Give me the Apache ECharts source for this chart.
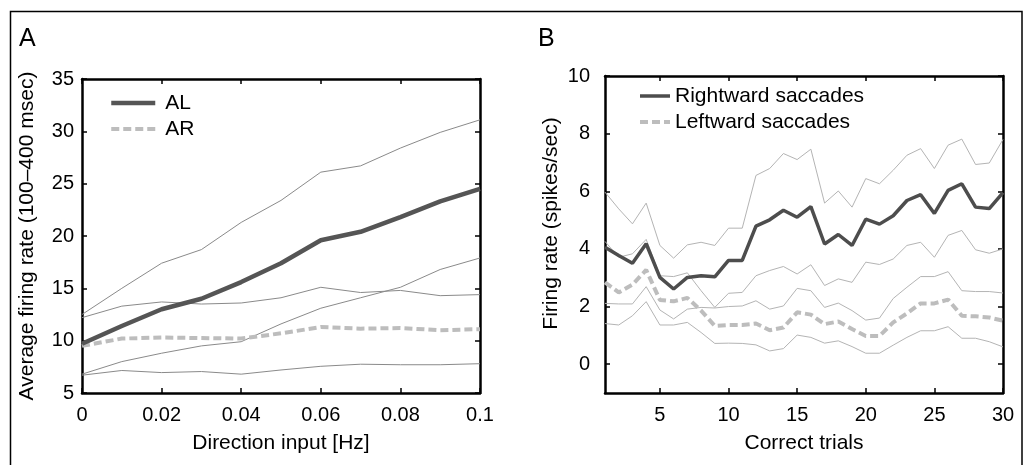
<!DOCTYPE html>
<html><head><meta charset="utf-8">
<script src="https://cdn.jsdelivr.net/npm/echarts@6/dist/echarts.min.js"></script>
<style>html,body{margin:0;padding:0;background:#fff}#c{width:1024px;height:465px}</style>
</head><body><div id="c"></div><script>
// ---- Panel A data ----
const directionInput = [0, 0.01, 0.02, 0.03, 0.04, 0.05, 0.06, 0.07, 0.08, 0.09, 0.1];
const alMean  = [9.7, 11.4, 13.0, 14.0, 15.6, 17.4, 19.6, 20.4, 21.8, 23.3, 24.5];
const alUpper = [12.5, 15.0, 17.4, 18.7, 21.3, 23.4, 26.1, 26.7, 28.4, 29.9, 31.1];
const alLower = [6.8, 8.0, 8.8, 9.5, 9.9, 11.6, 13.1, 14.1, 15.1, 16.8, 17.9];
const arMean  = [9.5, 10.2, 10.3, 10.25, 10.2, 10.7, 11.3, 11.15, 11.2, 11.0, 11.1];
const arUpper = [12.2, 13.3, 13.7, 13.5, 13.6, 14.1, 15.1, 14.6, 14.8, 14.3, 14.4];
const arLower = [6.7, 7.15, 6.95, 7.05, 6.8, 7.2, 7.55, 7.75, 7.7, 7.7, 7.8];

// ---- Panel B data ----
const trials = [1,2,3,4,5,6,7,8,9,10,11,12,13,14,15,16,17,18,19,20,21,22,23,24,25,26,27,28,29,30];
const rightMean  = [4.06,3.77,3.5,4.18,3.01,2.61,3.01,3.07,3.03,3.6,3.6,4.79,5.01,5.34,5.1,5.47,4.17,4.5,4.12,5.03,4.86,5.15,5.68,5.88,5.23,6.03,6.26,5.45,5.4,5.95];
const rightUpper = [5.97,5.39,4.87,5.59,4.12,3.68,4.14,4.23,4.12,4.72,4.72,6.55,6.79,7.31,7.1,7.46,5.59,6.01,5.45,6.44,6.26,6.73,7.25,7.48,6.79,7.6,7.81,6.93,6.98,7.8];
const rightLower = [2.11,2.09,2.09,2.69,1.88,1.57,1.91,1.97,1.95,2.0,2.02,2.2,1.91,2.02,2.63,2.55,1.97,2.12,1.86,1.53,1.6,2.28,2.67,3.04,3.04,3.21,2.55,2.52,2.52,2.47];
const leftMean   = [2.84,2.49,2.76,3.27,2.23,2.18,2.3,1.86,1.33,1.36,1.36,1.41,1.18,1.27,1.8,1.72,1.39,1.48,1.22,0.98,0.98,1.45,1.76,2.11,2.11,2.24,1.68,1.66,1.62,1.51];
const leftUpper  = [4.26,3.71,3.83,4.33,3.07,3.04,3.17,2.55,1.97,2.46,2.49,3.07,3.25,3.39,3.13,3.45,2.73,2.96,2.84,3.54,3.46,3.65,4.12,4.23,3.71,4.47,4.64,3.97,3.85,4.0];
const leftLower  = [1.41,1.36,1.68,2.17,1.36,1.36,1.45,1.1,0.72,0.73,0.72,0.67,0.46,0.54,1.01,0.93,0.73,0.81,0.61,0.38,0.38,0.66,0.93,1.16,1.16,1.3,0.9,0.9,0.78,0.6];
const bXTicks = [5, 10, 15, 20, 25, 30];
const bYTicks = [0, 2, 4, 6, 8, 10];

const FONT = "'Liberation Sans', Arial, Helvetica, sans-serif";
const pairs = (xs, ys) => xs.map((x, i) => [x, ys[i]]);

const axisLine = {show: true, onZero: false, lineStyle: {color: '#000', width: 2.5}};
const tick = {show: true, inside: true, length: 5, lineStyle: {color: '#000', width: 1.5}};
const lbl = (m) => ({color: '#000', fontSize: 20, fontFamily: FONT, margin: m});
const nameStyle = {color: '#000', fontSize: 21, fontFamily: FONT};

function xa(grid, pos, min, max, extra) {
  return Object.assign({gridIndex: grid, type: 'value', position: pos, min: min, max: max,
    axisLine: axisLine, splitLine: {show: false}}, extra);
}

const thinA = {color: '#8a8a8a', width: 1};
const thinB = {color: '#b4b4b4', width: 1};

function line(name, xi, yi, data, ls, z) {
  return {name: name, type: 'line', xAxisIndex: xi, yAxisIndex: yi, data: data,
    symbol: 'none', showSymbol: false, lineStyle: ls, itemStyle: {color: ls.color},
    silent: true, z: z || 2, animation: false};
}

const hiddenSymbol = {color: 'rgba(0,0,0,0)', borderColor: 'rgba(0,0,0,0)', borderWidth: 0, opacity: 0};

const option = {
  animation: false,
  backgroundColor: '#fff',
  title: [
    {text: 'A', left: 19, top: 27, padding: 0, textStyle: {fontSize: 25, fontWeight: 'normal', color: '#000', fontFamily: FONT}},
    {text: 'B', left: 538, top: 27, padding: 0, textStyle: {fontSize: 25, fontWeight: 'normal', color: '#000', fontFamily: FONT}}
  ],
  grid: [
    {left: 82, top: 79, width: 398, height: 314},
    {left: 605, top: 76, width: 398, height: 317}
  ],
  legend: [
    {data: ['AL', 'AR'], orient: 'vertical', left: 109, top: 90, itemWidth: 44, itemHeight: 12, itemGap: 0,
     padding: 0, selectedMode: false, itemStyle: hiddenSymbol, lineStyle: {width: 'inherit', type: 'inherit'},
     textStyle: {color: '#000', fontSize: 21, fontFamily: FONT, lineHeight: 26, padding: [0, 0, 0, 5]}},
    {data: ['Rightward saccades', 'Leftward saccades'], orient: 'vertical', left: 638, top: 83, itemWidth: 30, itemHeight: 12, itemGap: 0,
     padding: 0, selectedMode: false, itemStyle: hiddenSymbol, lineStyle: {width: 'inherit', type: 'inherit'},
     textStyle: {color: '#000', fontSize: 21, fontFamily: FONT, lineHeight: 26}}
  ],
  xAxis: [
    xa(0, 'bottom', 0, 0.1, {interval: 0.02, axisTick: tick, axisLabel: lbl(12),
      name: 'Direction input [Hz]', nameLocation: 'middle', nameGap: 40, nameTextStyle: nameStyle}),
    xa(0, 'top', 0, 0.1, {interval: 0.02, axisTick: tick, axisLabel: {show: false}}),
    xa(1, 'bottom', 1, 30, {axisTick: Object.assign({customValues: bXTicks}, tick),
      axisLabel: Object.assign({customValues: bXTicks}, lbl(12)),
      name: 'Correct trials', nameLocation: 'middle', nameGap: 40, nameTextStyle: nameStyle}),
    xa(1, 'top', 1, 30, {axisTick: Object.assign({customValues: bXTicks}, tick), axisLabel: {show: false}})
  ],
  yAxis: [
    xa(0, 'left', 5, 35, {interval: 5, axisTick: tick, axisLabel: lbl(8),
      name: 'Average firing rate (100\u2013400 msec)', nameLocation: 'middle', nameGap: 44, nameTextStyle: nameStyle}),
    xa(0, 'right', 5, 35, {interval: 5, axisTick: tick, axisLabel: {show: false}}),
    xa(1, 'left', -1, 10, {axisTick: Object.assign({customValues: bYTicks}, tick),
      axisLabel: Object.assign({customValues: bYTicks}, lbl(15)),
      name: 'Firing rate (spikes/sec)', nameLocation: 'middle', nameGap: 43,
      nameTextStyle: Object.assign({padding: [0, 0, 0, 22]}, nameStyle)}),
    xa(1, 'right', -1, 10, {axisTick: Object.assign({customValues: bYTicks}, tick), axisLabel: {show: false}})
  ],
  series: [
    line('AL upper', 0, 0, pairs(directionInput, alUpper), thinA),
    line('AL lower', 0, 0, pairs(directionInput, alLower), thinA),
    line('AR upper', 0, 0, pairs(directionInput, arUpper), thinA),
    line('AR lower', 0, 0, pairs(directionInput, arLower), thinA),
    line('AR', 0, 0, pairs(directionInput, arMean), {color: '#bdbdbd', width: 4, type: [8, 4]}, 3),
    line('AL', 0, 0, pairs(directionInput, alMean), {color: '#555555', width: 4.5}, 4),
    line('R upper', 2, 2, pairs(trials, rightUpper), thinB),
    line('R lower', 2, 2, pairs(trials, rightLower), thinB),
    line('L upper', 2, 2, pairs(trials, leftUpper), thinB),
    line('L lower', 2, 2, pairs(trials, leftLower), thinB),
    line('Leftward saccades', 2, 2, pairs(trials, leftMean), {color: '#bdbdbd', width: 4, type: [8, 4]}, 3),
    line('Rightward saccades', 2, 2, pairs(trials, rightMean), {color: '#4d4d4d', width: 3.5}, 4)
  ],
  graphic: [
    {type: 'rect', shape: {x: 10.5, y: 11.5, width: 1011.5, height: 470}, style: {fill: 'none', stroke: '#000', lineWidth: 1.5}, silent: true}
  ]
};

const chart = echarts.init(document.getElementById('c'), null, {renderer: 'canvas'});
chart.setOption(option);
</script></body></html>
